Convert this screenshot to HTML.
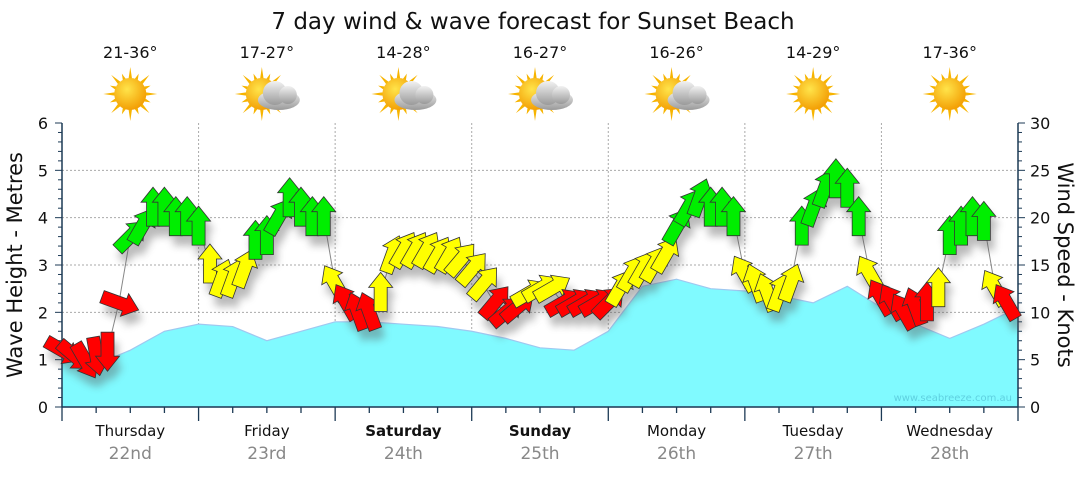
<!DOCTYPE html>
<html><head><meta charset="utf-8"><style>
body{margin:0;background:#fff;font-family:"Liberation Sans","DejaVu Sans",sans-serif;}
svg text{font-family:"DejaVu Sans","Liberation Sans",sans-serif;}
</style></head><body>
<svg id="chart" width="1080" height="475" viewBox="0 0 1080 475" xmlns="http://www.w3.org/2000/svg">
<defs>
<radialGradient id="sunG" cx="0.4" cy="0.35" r="0.7"><stop offset="0" stop-color="#ffe44a"/><stop offset="1" stop-color="#f29a00"/></radialGradient>
<linearGradient id="cloudG" x1="0" y1="0" x2="0" y2="1"><stop offset="0" stop-color="#f2f2f2"/><stop offset="1" stop-color="#9a9a9a"/></linearGradient>
<filter id="sh" x="-50%" y="-50%" width="200%" height="200%"><feGaussianBlur stdDeviation="4"/></filter>
</defs>
<text x="533" y="29" font-size="23" text-anchor="middle" fill="#111">7 day wind &amp; wave forecast for Sunset Beach</text>
<g id="icons"></g>
<g id="grid"></g>
<g id="waves"></g>
<g id="axes"></g>
<g id="wind"></g>
<text x="1012" y="401" font-size="10" text-anchor="end" fill="#5fd0e0">www.seabreeze.com.au</text>
<text transform="translate(22,265) rotate(-90)" font-size="21" text-anchor="middle" fill="#111">Wave Height - Metres</text>
<text transform="translate(1058,265) rotate(90)" font-size="21" text-anchor="middle" fill="#111">Wind Speed - Knots</text>
</svg>
<script>
const days=["Thursday","Friday","Saturday","Sunday","Monday","Tuesday","Wednesday"];
const dates=["22nd","23rd","24th","25th","26th","27th","28th"];
const temps=["21-36°","17-27°","14-28°","16-27°","16-26°","14-29°","17-36°"];
const cloudy=[0,1,1,1,1,0,0];
const waveHeights=[1.0,0.9,1.2,1.6,1.75,1.7,1.4,1.6,1.8,1.8,1.75,1.7,1.6,1.45,1.25,1.2,1.6,2.55,2.7,2.5,2.45,2.35,2.2,2.55,2.1,1.75,1.45,1.75,2.1];
const windSpeeds=[6,5.5,5,5.5,6,11,18,19,21,21,20,20,
19,15,13.5,13.5,14.5,17.5,18,20,22,21,20,20,
13,11,10,10,12,16,16.5,16.5,16.5,16,16,15.5,
14.5,13,11,10,10.5,12,12.5,12.5,11,11,11,11,
11,12.5,14,14.5,15,16,19,21,22,21,21,20,
14,13,12,12,13,19,21,23,24,23,20,14,
11.5,11,10,10.5,11,12.5,18,19,20,19.5,12.5,11];
const windDirs=[120,130,150,170,180,110,45,30,0,0,0,0,
0,0,20,20,20,0,0,30,0,0,0,0,
330,330,340,340,0,20,30,30,30,30,30,40,
40,40,40,50,50,60,60,60,60,60,60,60,
45,30,30,30,30,30,30,30,20,0,0,0,
330,340,340,20,20,0,20,20,0,0,0,330,
330,330,330,340,0,0,0,0,0,0,330,330];
const waveTicks=[0,1,2,3,4,5,6];
const windTicks=[0,5,10,15,20,25,30];

const NS="http://www.w3.org/2000/svg";
const X0=62,X1=1018,Y0=407,YT=123,DW=(X1-X0)/7;
const yW=v=>Y0-(Y0-YT)*v/6;
const yK=v=>Y0-(Y0-YT)*v/30;
const xH=h=>X0+DW*h/24;
function mk(p,tag,a){const e=document.createElementNS(NS,tag);for(const k in a)e.setAttribute(k,a[k]);p.appendChild(e);return e;}
const G=id=>document.getElementById(id);

days.forEach((d,i)=>{
  const cx=X0+DW*(i+0.5);
  const t=mk(G('icons'),'text',{x:cx,y:58,'font-size':16,'text-anchor':'middle',fill:'#111'});
  t.textContent=temps[i];
  
  
  const g=mk(G('icons'),'g',{});
  
  
  const sx=cloudy[i]?cx-5:cx, sy=94;
  for(let k=0;k<16;k++){const a=k*Math.PI/8,L=k%2?22:27;
    mk(g,'polygon',{points:`${sx+Math.cos(a)*L},${sy+Math.sin(a)*L} ${sx+Math.cos(a+0.12)*15},${sy+Math.sin(a+0.12)*15} ${sx+Math.cos(a-0.12)*15},${sy+Math.sin(a-0.12)*15}`,fill:'#f7b400'});}
  mk(g,'circle',{cx:sx,cy:sy,r:16,fill:'url(#sunG)'});
  if(cloudy[i]){
    mk(g,'ellipse',{cx:cx+12,cy:100,rx:21,ry:10,fill:'url(#cloudG)'});
    mk(g,'circle',{cx:cx+8,cy:93,r:12,fill:'url(#cloudG)'});
    mk(g,'circle',{cx:cx+21,cy:95,r:9,fill:'url(#cloudG)'});
  }
});

for(let i=1;i<7;i++){const l=mk(G('grid'),'line',{x1:X0+DW*i,x2:X0+DW*i,y1:YT,y2:Y0,stroke:'#aaa','stroke-dasharray':'2,2'});
  }
waveTicks.forEach(v=>{if(v>0&&v<6){const l=mk(G('grid'),'line',{x1:X0,x2:X1,y1:yW(v),y2:yW(v),stroke:'#aaa','stroke-dasharray':'2,2'});
  }});

let d=`M${X0},${Y0}`;
waveHeights.forEach((v,i)=>{d+=` L${xH(i*6)},${yW(v)}`;});
d+=` L${X1},${Y0} Z`;
const wa=mk(G('waves'),'path',{d,fill:'#80faff',stroke:'#9fc8f0','stroke-width':1.2});


const ax=G('axes');
mk(ax,'line',{x1:X0,x2:X0,y1:YT,y2:Y0,stroke:'#1c3a55','stroke-width':1.5});
mk(ax,'line',{x1:X1,x2:X1,y1:YT,y2:Y0,stroke:'#1c3a55','stroke-width':1.5});
mk(ax,'line',{x1:X0,x2:X1,y1:Y0,y2:Y0,stroke:'#1c3a55','stroke-width':1.5});
for(let v=0;v<=6.001;v+=0.2){const major=Math.abs(v-Math.round(v))<0.01;mk(ax,'line',{x1:X0-(major?7:4),x2:X0,y1:yW(v),y2:yW(v),stroke:'#1c3a55'});}
for(let v=0;v<=30;v++){const major=v%5==0;mk(ax,'line',{x1:X1,x2:X1+(major?7:4),y1:yK(v),y2:yK(v),stroke:'#1c3a55'});}
waveTicks.forEach(v=>{const t=mk(ax,'text',{x:X0-14,y:yW(v)+6,'font-size':16,'text-anchor':'end',fill:'#111'});t.textContent=v;
  });
windTicks.forEach(v=>{const t=mk(ax,'text',{x:X1+12,y:yK(v)+6,'font-size':16,fill:'#111'});t.textContent=v;
  });
for(let h=0;h<=168;h+=6){mk(ax,'line',{x1:xH(h),x2:xH(h),y1:Y0,y2:Y0+(h%24==0?14:6),stroke:'#1c3a55','stroke-width':1.3});}
days.forEach((dn,i)=>{const cx=X0+DW*(i+0.5);const we=(i==2||i==3);
  const t=mk(ax,'text',{x:cx,y:436,'font-size':15,'text-anchor':'middle',fill:'#111','font-weight':we?'bold':'normal'});t.textContent=dn;
  
  const t2=mk(ax,'text',{x:cx,y:459,'font-size':17,'text-anchor':'middle',fill:'#888'});t2.textContent=dates[i];
  });

const wg=G('wind');
let pd='';windSpeeds.forEach((v,i)=>{pd+=(i?' L':'M')+xH(i*2)+','+yK(v);});
const ln=mk(wg,'path',{d:pd,fill:'none',stroke:'#888','stroke-width':1});

const arrowPts="0,-21 12,-6 6.5,-6 6.5,18 -6.5,18 -6.5,-6 -12,-6";
const shg=mk(wg,'g',{opacity:0.4,filter:'url(#sh)'});
windSpeeds.forEach((v,i)=>{mk(shg,'polygon',{points:arrowPts,fill:'#555',transform:`translate(${xH(i*2)+4},${yK(v)+10}) rotate(${windDirs[i]})`});});
windSpeeds.forEach((v,i)=>{
  const col=v<12?'#ff0000':(v<17.5?'#ffff00':'#00ee00');
  const a=mk(wg,'polygon',{points:arrowPts,fill:col,stroke:'#333','stroke-width':0.8,transform:`translate(${xH(i*2)},${yK(v)}) rotate(${windDirs[i]})`});
  
  
});
</script>
</body></html>
